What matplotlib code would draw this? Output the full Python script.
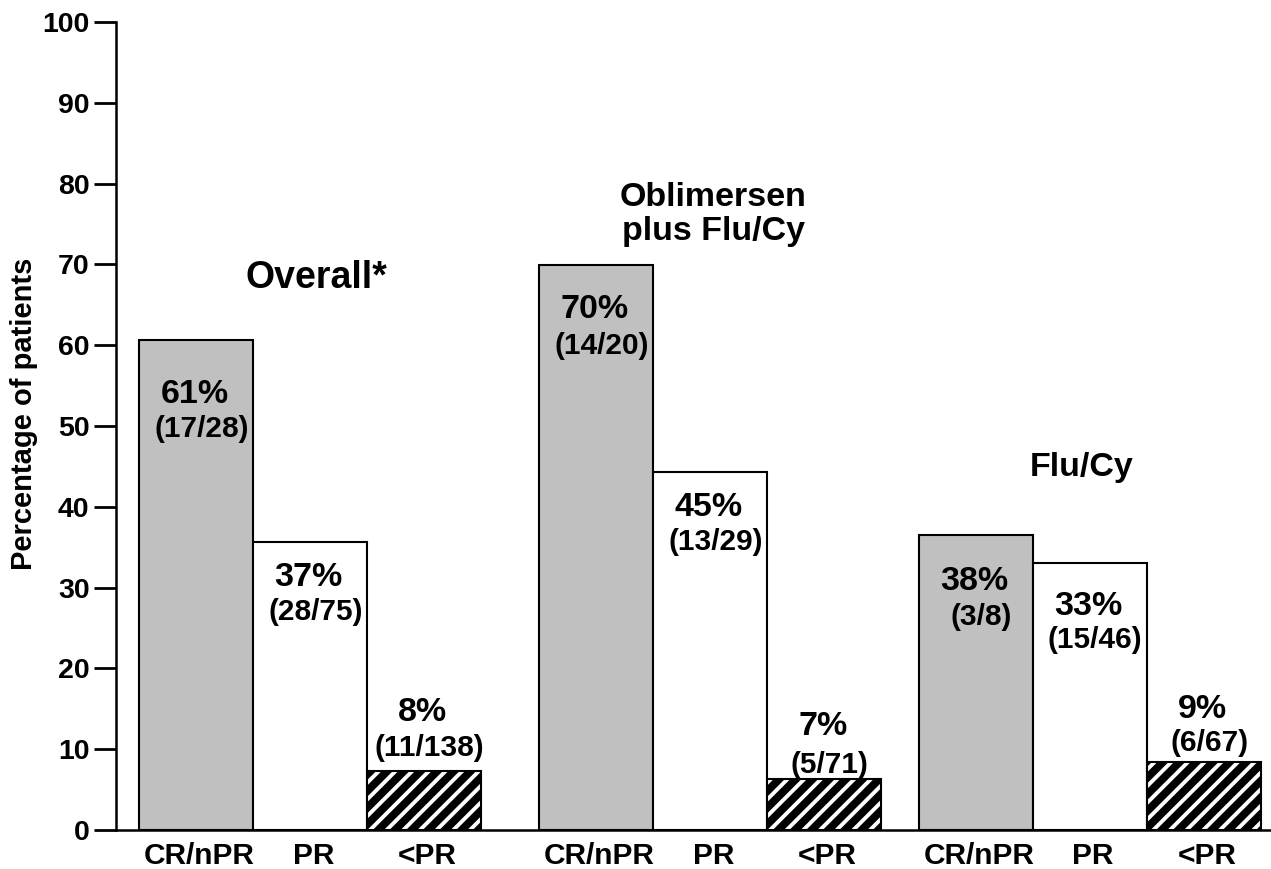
import matplotlib
matplotlib.use("Agg")
import matplotlib.pyplot as plt
import numpy as np

plt.rcParams["font.family"] = ["Liberation Sans", "DejaVu Sans"]
plt.rcParams["font.weight"] = "bold"
plt.rcParams["hatch.linewidth"] = 2.8

# ---------- Data ----------
groups = ["Overall*", "Oblimersen\nplus Flu/Cy", "Flu/Cy"]
categories = ["CR/nPR", "PR", "<PR"]
values = [
    [60.6, 35.7, 7.3],   # Overall*
    [69.9, 44.3, 6.3],   # Oblimersen plus Flu/Cy
    [36.5, 33.1, 8.4],   # Flu/Cy
]
pct_labels = [["61%", "37%", "8%"], ["70%", "45%", "7%"], ["38%", "33%", "9%"]]
count_labels = [
    ["(17/28)", "(28/75)", "(11/138)"],
    ["(14/20)", "(13/29)", "(5/71)"],
    ["(3/8)", "(15/46)", "(6/67)"],
]

# ---------- Layout ----------
group_left = [0.2, 3.71, 7.04]          # left edge of first bar in each group
bar_w = 1.0
# label offsets from bar top (percent, count), per group / bar
pct_off = [[-6.7, -4.5, 7.2], [-5.5, -4.4, 6.5], [-5.8, -5.5, 6.5]]
cnt_off = [[-11.0, -8.7, 2.9], [-10.0, -8.6, 1.8], [-10.1, -9.6, 2.4]]
title_xy = [(1.76, 68.3), (5.24, 76.2), (8.47, 44.9)]
title_size = [27, 24.5, 24.5]
face = ["#c0c0c0", "white", "black"]

fig = plt.figure(figsize=(12.71, 8.69), dpi=100)
ax = fig.add_axes([116 / 1271, 1 - 830 / 869, 1 - 116 / 1271, (830 - 22) / 869])

xticks, xlabels = [], []
for g, gname in enumerate(groups):
    xs = group_left[g] + bar_w / 2 + np.arange(3) * bar_w
    for i, x in enumerate(xs):
        v = values[g][i]
        if i == 2:
            ax.bar(x, v, width=bar_w, color="black", edgecolor="white",
                   hatch="//", linewidth=0, zorder=2)
            ax.bar(x, v, width=bar_w, fill=False, edgecolor="black",
                   linewidth=1.5, zorder=3)
        else:
            ax.bar(x, v, width=bar_w, color=face[i], edgecolor="black",
                   linewidth=1.5, zorder=2)
        ax.text(x - 0.01, v + pct_off[g][i], pct_labels[g][i], ha="center",
                va="center", fontsize=24.5, fontweight="bold", zorder=4)
        ax.text(x + 0.05, v + cnt_off[g][i], count_labels[g][i], ha="center",
                va="center", fontsize=21.5, fontweight="bold", zorder=4)
        xticks.append(x + 0.03)
        xlabels.append(categories[i])
    tx, ty = title_xy[g]
    ax.text(tx, ty, gname, ha="center", va="center", fontsize=title_size[g],
            fontweight="bold", linespacing=1.15)

ax.set_xlim(0, (1271 - 116) / 114)
ax.set_ylim(0, 100)
ax.set_yticks(np.arange(0, 101, 10))
ax.set_xticks(xticks)
ax.set_xticklabels(xlabels)
ax.tick_params(axis="x", length=0, pad=9, labelsize=21.5)
ax.tick_params(axis="y", length=16, width=2, pad=3, labelsize=20.5)
for lab in ax.get_xticklabels() + ax.get_yticklabels():
    lab.set_fontweight("bold")

for s in ["top", "right"]:
    ax.spines[s].set_visible(False)
ax.spines["left"].set_linewidth(1.8)
ax.spines["bottom"].set_linewidth(1.8)

ax.set_ylabel("Percentage of patients", fontsize=21, fontweight="bold", va="center")
ax.yaxis.set_label_coords(-0.0795, 0.515)

fig.savefig("out.png", dpi=100)
